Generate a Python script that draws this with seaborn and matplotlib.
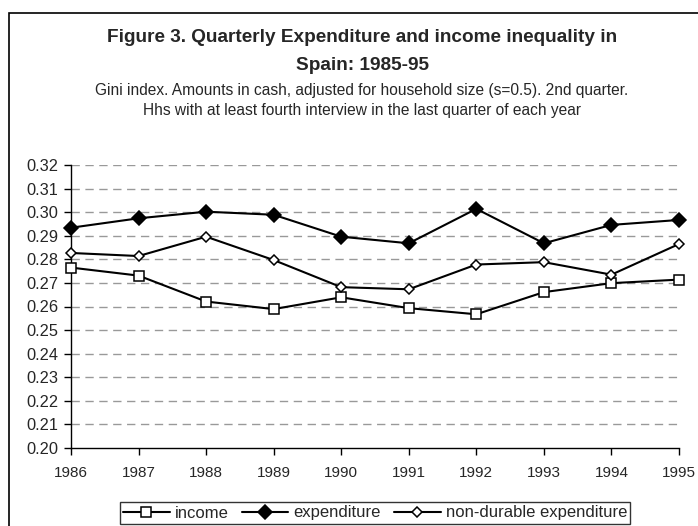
import numpy as np
import pandas as pd
import matplotlib
matplotlib.use("Agg")
import matplotlib.pyplot as plt
import seaborn as sns
from matplotlib.patches import Rectangle

years = [1986, 1987, 1988, 1989, 1990, 1991, 1992, 1993, 1994, 1995]
income = [0.2765, 0.2731, 0.2621, 0.2589, 0.2639, 0.2593, 0.2567, 0.2661, 0.2699, 0.2714]
expenditure = [0.2934, 0.2974, 0.3002, 0.2989, 0.2896, 0.2868, 0.3014, 0.2868, 0.2946, 0.2967]
non_durable = [0.2827, 0.2814, 0.2896, 0.2797, 0.2682, 0.2673, 0.2778, 0.2788, 0.2735, 0.2865]
y_ticks = [0.20, 0.21, 0.22, 0.23, 0.24, 0.25, 0.26, 0.27, 0.28, 0.29, 0.30, 0.31, 0.32]

sns.set_style("white")
plt.rcParams['font.family'] = ['Liberation Sans', 'DejaVu Sans']

fig = plt.figure(figsize=(6.98, 5.26), dpi=100)
ax = fig.add_axes([71 / 698, 1 - 448 / 526, (679 - 71) / 698, (448 - 165) / 526])

# outer chart frame (bottom and right run off the picture)
fig.patches.append(Rectangle((9 / 698, -0.1), 1.2, 1.1 - 13 / 526, transform=fig.transFigure,
                             fill=False, edgecolor='black', linewidth=1.2, clip_on=False))

series = [
    ('income', income, 's', 'white', 7.8),
    ('expenditure', expenditure, 'D', 'black', 6.8),
    ('non-durable expenditure', non_durable, 'D', 'white', 5.2),
]
for name, vals, mk, mfc, ms in series:
    sns.lineplot(x=years, y=vals, ax=ax, color='black', linewidth=1.5, marker=mk,
                 markersize=ms, markerfacecolor=mfc, markeredgecolor='black',
                 markeredgewidth=1.1, label=name, clip_on=False, zorder=3)

ax.set_xlim(1986, 1995)
ax.set_ylim(0.20, 0.32)
ax.set_xticks(years)
ax.set_yticks(y_ticks)
ax.set_yticklabels([f"{v:.2f}" for v in y_ticks])
ax.tick_params(axis='both', length=5, width=1, color='black', direction='out',
               bottom=True, left=True, pad=4)
ax.tick_params(axis='x', labelsize=11, pad=8)
ax.tick_params(axis='y', labelsize=11.8)
for v in y_ticks[1:]:
    ax.axhline(v, color='#999999', linewidth=1, linestyle=(0, (6, 4)), zorder=1)
for s in ['top', 'right']:
    ax.spines[s].set_visible(False)
for s in ['left', 'bottom']:
    ax.spines[s].set_color('black')
    ax.spines[s].set_linewidth(1)

cx = 362 / 698
fig.text(cx, 1 - 38 / 526, "Figure 3. Quarterly Expenditure and income inequality in",
         ha='center', va='center', fontsize=13.7, fontweight='bold')
fig.text(cx, 1 - 66 / 526, "Spain: 1985-95", ha='center', va='center', fontsize=13.7, fontweight='bold')
fig.text(cx, 1 - 91 / 526,
         "Gini index. Amounts in cash, adjusted for household size (s=0.5). 2nd quarter.",
         ha='center', va='center', fontsize=11.2)
fig.text(cx, 1 - 110 / 526, "Hhs with at least fourth interview in the last quarter of each year",
         ha='center', va='center', fontsize=11.2)

leg = ax.legend(loc='center', bbox_to_anchor=(375 / 698, 1 - 513 / 526), bbox_transform=fig.transFigure,
                ncol=3, frameon=True, fancybox=False, fontsize=12, handlelength=2.8,
                handletextpad=0.3, columnspacing=0.8, borderpad=0.2, borderaxespad=0)
leg.get_frame().set_edgecolor('black')
leg.get_frame().set_linewidth(1)

fig.savefig("out.png", dpi=100)
